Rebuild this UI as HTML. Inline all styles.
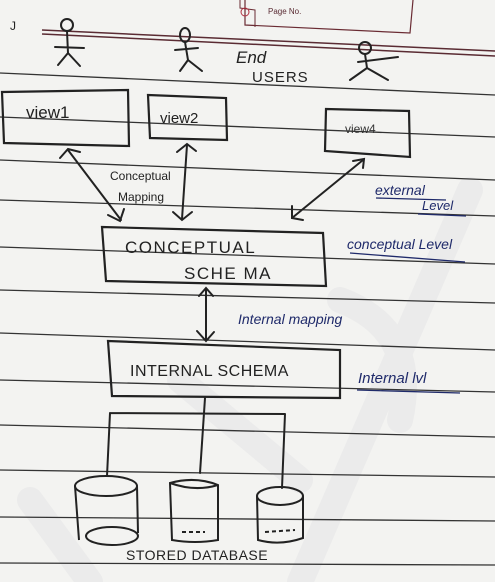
<!DOCTYPE html>
<html><head><meta charset="utf-8"><style>
html,body{margin:0;padding:0;background:#f3f3f1;}
svg{display:block}
text{font-family:"Liberation Sans",sans-serif;}
</style></head><body>
<svg width="495" height="582" viewBox="0 0 495 582" xmlns="http://www.w3.org/2000/svg">
<rect width="495" height="582" fill="#f3f3f1"/>
<g stroke="#ebebeb" stroke-width="26" fill="none" stroke-linecap="round">
<path d="M470 190 L300 582"/>
<path d="M340 300 Q420 330 400 420"/>
<path d="M180 380 L300 480"/>
<path d="M30 500 L90 582"/>
</g>
<g stroke="#333" stroke-width="1.3" fill="none">
<path d="M0 73 L495 95"/>
<path d="M0 117 L495 137"/>
<path d="M0 160 L495 180"/>
<path d="M0 200 L495 216"/>
<path d="M0 247 L495 264"/>
<path d="M0 290 L495 303"/>
<path d="M0 333 L495 350"/>
<path d="M0 380 L495 392"/>
<path d="M0 425 L495 437"/>
<path d="M0 470 L495 477"/>
<path d="M0 517 L495 521"/>
<path d="M0 563 L495 565"/>
</g>
<path d="M42 30 L495 51" stroke="#5a2b33" stroke-width="1.5" fill="none"/>
<path d="M42 34 L495 56" stroke="#5a2b33" stroke-width="1.5" fill="none"/>
<path d="M245 0 L245 25 L410 33 L413 0" stroke="#6a2b33" stroke-width="1.2" fill="none"/>
<path d="M240 0 L240 8 L255 10 L255 27" stroke="#6a2b33" stroke-width="1" fill="none"/>
<circle cx="245" cy="12" r="4" stroke="#b03040" fill="none"/>
<text x="268" y="14" font-size="8" fill="#5a2b33">Page No.</text>
<text x="10" y="30" font-size="12" fill="#222">J</text>
<g stroke="#222" stroke-width="2" fill="none" stroke-linecap="round">
<circle cx="67" cy="25" r="6"/><path d="M67 31 L68 53 M55 47 L84 48 M68 53 L58 65 M68 53 L80 66"/>
<ellipse cx="185" cy="35" rx="5" ry="7"/><path d="M185 42 L188 60 M175 50 L198 48 M188 60 L180 71 M188 60 L202 71"/>
<circle cx="365" cy="48" r="6"/><path d="M365 54 L367 68 M358 62 L398 57 M367 68 L350 80 M367 68 L388 80"/>
</g>
<text x="236" y="63" font-size="17" fill="#222" font-style="italic">End</text>
<text x="252" y="82" font-size="15" fill="#222" letter-spacing="1">USERS</text>
<g stroke="#222" stroke-width="2.2" fill="none">
<path d="M2 92 L128 90 L129 146 L4 143 Z"/>
<path d="M148 95 L226 98 L227 140 L150 138 Z"/>
<path d="M326 109 L409 111 L410 157 L325 151 Z"/>
<path d="M102 227 L323 233 L326 286 L106 281 Z"/>
<path d="M108 341 L340 350 L340 398 L112 396 Z"/>
</g>
<text x="26" y="118" font-size="17" fill="#222">view1</text>
<text x="160" y="123" font-size="15" fill="#222">view2</text>
<text x="345" y="133" font-size="12" fill="#333">view4</text>
<text x="125" y="253" font-size="17" fill="#222" letter-spacing="1.5">CONCEPTUAL</text>
<text x="184" y="279" font-size="17" fill="#222" letter-spacing="1.5">SCHE MA</text>
<text x="130" y="376" font-size="16" fill="#222" letter-spacing="0.5">INTERNAL SCHEMA</text>
<g stroke="#222" stroke-width="2" fill="none" stroke-linecap="round">
<path d="M68 150 L121 220"/><path d="M60 158 L68 149 L80 152"/><path d="M108 215 L120 221 L124 209"/>
<path d="M187 145 L182 219"/><path d="M177 152 L187 144 L196 151"/><path d="M173 212 L182 220 L192 212"/>
<path d="M363 160 L292 218"/><path d="M353 161 L364 159 L363 168"/><path d="M292 206 L292 218 L303 220"/>
<path d="M206 289 L206 340"/><path d="M199 296 L206 288 L213 296"/><path d="M197 331 L206 341 L214 332"/>
<path d="M205 398 L200 473 M110 413 L285 414 M110 413 L107 476 M285 414 L282 488"/>
</g>
<text x="110" y="180" font-size="12" fill="#222">Conceptual</text>
<text x="118" y="201" font-size="12" fill="#222">Mapping</text>
<g stroke="#222" stroke-width="2" fill="none">
<ellipse cx="106" cy="486" rx="31" ry="10"/><path d="M75 486 L79 540 M137 486 L138 533"/><ellipse cx="112" cy="536" rx="26" ry="9"/>
<path d="M170 483 Q195 476 218 485 L218 540 Q195 544 172 540 Z M170 483 Q195 492 218 485"/><path d="M182 532 L205 532" stroke-dasharray="4 3"/>
<ellipse cx="280" cy="496" rx="23" ry="9"/><path d="M257 496 L258 540 Q280 546 303 538 L303 496"/><path d="M265 532 L295 530" stroke-dasharray="4 3"/>
</g>
<text x="126" y="560" font-size="14" fill="#222" letter-spacing="0.5">STORED DATABASE</text>
<g fill="#1f2a6a" font-style="italic">
<text x="375" y="195" font-size="14">external</text>
<text x="422" y="210" font-size="13">Level</text>
<text x="347" y="249" font-size="14">conceptual Level</text>
<text x="238" y="324" font-size="14">Internal mapping</text>
<text x="358" y="383" font-size="15">Internal lvl</text>
</g>
<g stroke="#1f2a6a" stroke-width="1.3" fill="none">
<path d="M376 198 L446 200 M418 214 L466 216 M350 253 L465 262 M357 390 L460 393"/>
</g>
</svg>
</body></html>
